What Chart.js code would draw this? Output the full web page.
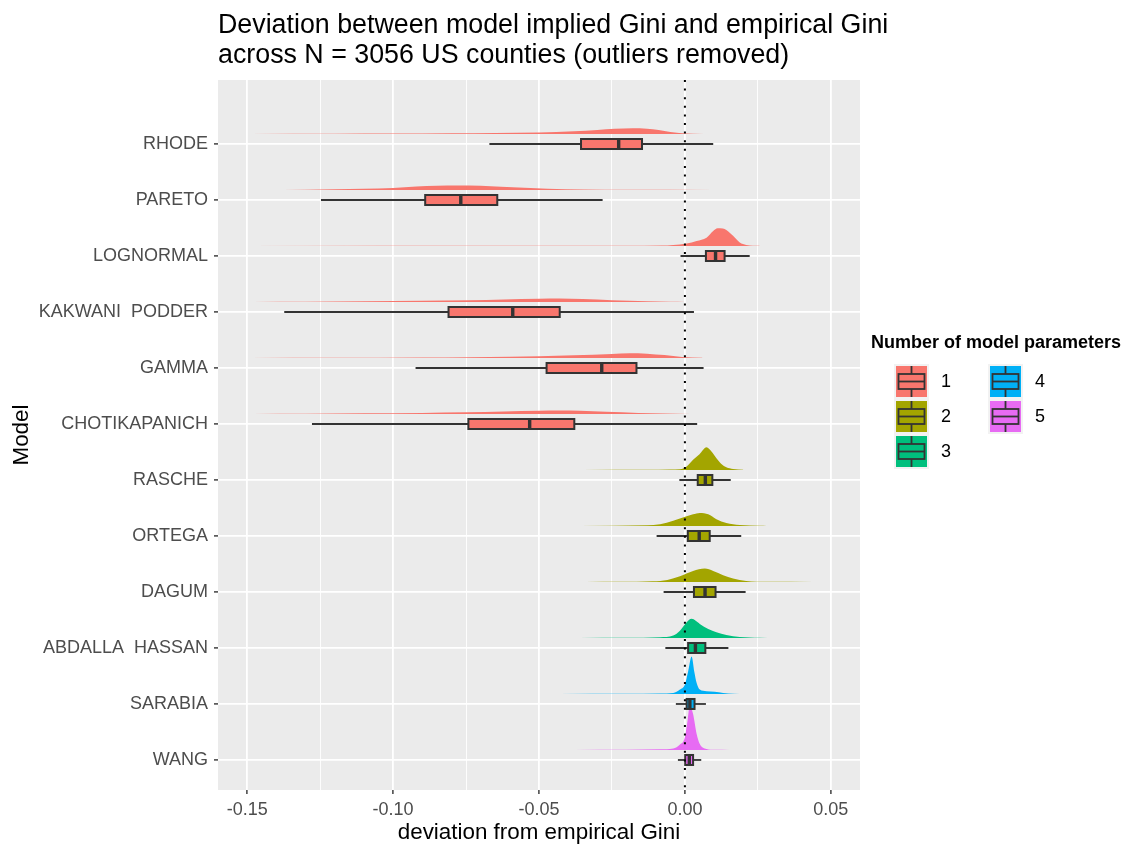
<!DOCTYPE html>
<html lang="en">
<head>
<meta charset="UTF-8">
<title>Deviation between model implied Gini and empirical Gini</title>
<script src="https://cdn.jsdelivr.net/npm/chart.js"></script>
<style>
    body {
        margin: 0;
        background: #ffffff;
    }
</style>
</head>
<body>
<canvas id="giniChart" width="1127" height="848"></canvas>
<script>
// models, from top row to bottom row
const modelos = ["RHODE", "PARETO", "LOGNORMAL", "KAKWANI  PODDER", "GAMMA", "CHOTIKAPANICH",
                 "RASCHE", "ORTEGA", "DAGUM", "ABDALLA  HASSAN", "SARABIA", "WANG"];
const numParametros = [1, 1, 1, 1, 1, 1, 2, 2, 2, 3, 4, 5];

// boxplot statistics per model
const bigoteInf = [-0.0670, -0.1247, -0.0015, -0.1373, -0.0923, -0.1278, -0.0019, -0.0097, -0.0073, -0.0067, -0.0031, -0.0024];
const cuartil1  = [-0.0356, -0.0890,  0.0072, -0.0810, -0.0474, -0.0742,  0.0044,  0.0010,  0.0031,  0.0011,  0.0006,  0.0001];
const mediana   = [-0.0227, -0.0768,  0.0105, -0.0590, -0.0285, -0.0532,  0.0070,  0.0049,  0.0069,  0.0036,  0.0017,  0.0015];
const cuartil3  = [-0.0147, -0.0643,  0.0136, -0.0429, -0.0166, -0.0379,  0.0094,  0.0085,  0.0105,  0.0070,  0.0033,  0.0028];
const bigoteSup = [ 0.0097, -0.0282,  0.0222,  0.0031,  0.0064,  0.0042,  0.0157,  0.0193,  0.0208,  0.0149,  0.0072,  0.0056];

// density curves [deviation, height in row units]
const densRhode = [[-0.149, 0.0005], [-0.12, 0.003], [-0.10, 0.006], [-0.08, 0.011], [-0.065, 0.017], [-0.05, 0.025],
                   [-0.038, 0.048], [-0.03, 0.072], [-0.024, 0.092], [-0.018, 0.100], [-0.013, 0.094], [-0.009, 0.068],
                   [-0.005, 0.035], [-0.002, 0.016], [0.003, 0.004], [0.010, 0.0005]];
const densPareto = [[-0.145, 0.0005], [-0.13, 0.005], [-0.12, 0.011], [-0.11, 0.020], [-0.10, 0.035], [-0.092, 0.060],
                    [-0.085, 0.075], [-0.078, 0.078], [-0.07, 0.074], [-0.063, 0.058], [-0.055, 0.038], [-0.047, 0.022],
                    [-0.035, 0.009], [-0.02, 0.003], [0.010, 0.0003]];
const densLognormal = [[-0.15, 0.0003], [-0.06, 0.001], [-0.02, 0.003], [-0.008, 0.007], [-0.004, 0.018], [0.0006, 0.045],
                       [0.004, 0.09], [0.0074, 0.148], [0.0097, 0.268], [0.0112, 0.316], [0.013, 0.310], [0.0142, 0.286],
                       [0.0165, 0.18], [0.0188, 0.06], [0.021, 0.018], [0.0256, 0.001]];
const densKakwani = [[-0.148, 0.0005], [-0.13, 0.004], [-0.11, 0.011], [-0.09, 0.020], [-0.074, 0.030], [-0.062, 0.045],
                     [-0.05, 0.058], [-0.043, 0.060], [-0.035, 0.052], [-0.025, 0.032], [-0.013, 0.013], [-0.005, 0.004],
                     [0.0, 0.0005]];
const densGamma = [[-0.149, 0.0004], [-0.12, 0.003], [-0.09, 0.007], [-0.074, 0.012], [-0.06, 0.020], [-0.05, 0.030],
                   [-0.038, 0.048], [-0.025, 0.072], [-0.019, 0.083], [-0.013, 0.076], [-0.007, 0.050], [-0.001, 0.018],
                   [0.006, 0.001]];
const densChotikapanich = [[-0.148, 0.0005], [-0.13, 0.004], [-0.11, 0.010], [-0.09, 0.018], [-0.075, 0.028], [-0.062, 0.042],
                           [-0.05, 0.056], [-0.043, 0.060], [-0.036, 0.055], [-0.027, 0.038], [-0.016, 0.018], [-0.007, 0.006],
                           [0.002, 0.0005]];
const densRasche = [[-0.035, 0.0004], [-0.013, 0.003], [-0.005, 0.008], [-0.0017, 0.012], [0.0006, 0.06], [0.0028, 0.18],
                    [0.005, 0.28], [0.0074, 0.405], [0.0091, 0.33], [0.0108, 0.21], [0.0125, 0.107], [0.0142, 0.048],
                    [0.0165, 0.018], [0.020, 0.001]];
const densOrtega = [[-0.036, 0.0004], [-0.013, 0.010], [-0.0085, 0.030], [-0.004, 0.09], [0.0006, 0.173], [0.0028, 0.208],
                    [0.0051, 0.232], [0.008, 0.208], [0.0108, 0.12], [0.0142, 0.054], [0.0188, 0.018], [0.0256, 0.003],
                    [0.028, 0.0004]];
const densDagum = [[-0.034, 0.0004], [-0.022, 0.003], [-0.011, 0.012], [-0.006, 0.036], [-0.0017, 0.10], [0.0028, 0.196],
                   [0.0068, 0.238], [0.0097, 0.196], [0.0131, 0.12], [0.0165, 0.06], [0.021, 0.018], [0.028, 0.003],
                   [0.044, 0.0003]];
const densAbdalla = [[-0.036, 0.0004], [-0.02, 0.003], [-0.0085, 0.012], [-0.004, 0.042], [-0.0017, 0.13], [0.0006, 0.28],
                     [0.0023, 0.34], [0.0051, 0.25], [0.008, 0.16], [0.0108, 0.10], [0.0142, 0.054], [0.0188, 0.018],
                     [0.0256, 0.004], [0.031, 0.0004]];
const densSarabia = [[-0.043, 0.0003], [-0.02, 0.003], [-0.0085, 0.008], [-0.004, 0.018], [-0.0017, 0.077], [0.0, 0.167],
                     [0.0011, 0.40], [0.0023, 0.67], [0.0032, 0.40], [0.004, 0.20], [0.0051, 0.077], [0.0074, 0.048],
                     [0.0102, 0.040], [0.0131, 0.018], [0.0165, 0.005], [0.021, 0.0003]];
const densWang = [[-0.038, 0.0003], [-0.02, 0.003], [-0.0085, 0.010], [-0.004, 0.024], [-0.0017, 0.095], [0.0, 0.226],
                  [0.0009, 0.52], [0.0017, 0.80], [0.0028, 0.64], [0.004, 0.29], [0.0051, 0.107], [0.0074, 0.018],
                  [0.010, 0.003], [0.0153, 0.0003]];
const densidades = [densRhode, densPareto, densLognormal, densKakwani, densGamma, densChotikapanich,
                    densRasche, densOrtega, densDagum, densAbdalla, densSarabia, densWang];

// x axis ticks and legend
const marcasX = [-0.15, -0.10, -0.05, 0.00, 0.05];
const etiquetasParam = ["1", "2", "3", "4", "5"];
const coloresParam = ["#F8766D", "#A3A500", "#00BF7D", "#00B0F6", "#E76BF3"];

const lineasTitulo = ["Deviation between model implied Gini and empirical Gini",
                      "across N = 3056 US counties (outliers removed)"];
const tituloLeyenda = "Number of model parameters";

const FUENTE = '"Liberation Sans", Arial, Helvetica, sans-serif';
Chart.defaults.font.family = FUENTE;

const n = modelos.length;
const filaY = i => n - i;          // top row gets the highest value
const DENS_BASE = 0.18;            // densities sit a bit above their row line

// minor gridlines halfway between the labelled ticks
const todasMarcasX = [];
marcasX.forEach((v, k) => {
    todasMarcasX.push(v);
    if (k < marcasX.length - 1) todasMarcasX.push((v + marcasX[k + 1]) / 2);
});
const esMayor = v => marcasX.some(m => Math.abs(m - v) < 1e-9);

const datasets = densidades.map((d, i) => {
    const base = filaY(i) + DENS_BASE;
    return {
        type: 'line',
        data: d.map(p => ({ x: p[0], y: base + p[1] })),
        borderColor: 'rgba(0,0,0,0)',
        borderWidth: 0,
        backgroundColor: coloresParam[numParametros[i] - 1],
        pointRadius: 0,
        cubicInterpolationMode: 'monotone',
        fill: { value: base }
    };
});

// grey panel behind the grid
const fondoPanel = {
    id: 'fondoPanel',
    beforeDraw(chart) {
        const { ctx, chartArea: a } = chart;
        ctx.save();
        ctx.fillStyle = '#EBEBEB';
        ctx.fillRect(a.left, a.top, a.right - a.left, a.bottom - a.top);
        ctx.restore();
    }
};

// boxplots on top of the densities, then the dotted zero line
const cajas = {
    id: 'cajas',
    afterDatasetsDraw(chart) {
        const { ctx, chartArea: a } = chart;
        const x = chart.scales.x, y = chart.scales.y;
        const px = v => x.getPixelForValue(v);
        const alto = 5;
        ctx.save();
        modelos.forEach((m, i) => {
            const yc = y.getPixelForValue(filaY(i));
            ctx.strokeStyle = '#333333';
            ctx.lineWidth = 1.8;
            ctx.beginPath();
            ctx.moveTo(px(bigoteInf[i]), yc);
            ctx.lineTo(px(bigoteSup[i]), yc);
            ctx.stroke();

            const x1 = px(cuartil1[i]), x3 = px(cuartil3[i]);
            ctx.fillStyle = coloresParam[numParametros[i] - 1];
            ctx.fillRect(x1, yc - alto, x3 - x1, alto * 2);
            ctx.lineWidth = 2;
            ctx.strokeRect(x1, yc - alto, x3 - x1, alto * 2);

            ctx.lineWidth = 3.4;
            ctx.beginPath();
            ctx.moveTo(px(mediana[i]), yc - alto);
            ctx.lineTo(px(mediana[i]), yc + alto);
            ctx.stroke();
        });

        const x0 = px(0);
        ctx.setLineDash([2, 6.6]);
        ctx.strokeStyle = '#000000';
        ctx.lineWidth = 2;
        ctx.beginPath();
        ctx.moveTo(x0, a.top);
        ctx.lineTo(x0, a.bottom);
        ctx.stroke();
        ctx.restore();
    }
};

const titulo = {
    id: 'titulo',
    afterDraw(chart) {
        const ctx = chart.ctx;
        ctx.save();
        ctx.fillStyle = '#000000';
        ctx.font = '26.8px ' + FUENTE;
        ctx.textBaseline = 'alphabetic';
        lineasTitulo.forEach((t, k) => ctx.fillText(t, chart.chartArea.left, 33 + k * 30));
        ctx.restore();
    }
};

// legend: colour key with a small boxplot glyph, two columns
const leyenda = {
    id: 'leyenda',
    afterDraw(chart) {
        const ctx = chart.ctx;
        const x0 = chart.chartArea.right + 11;
        ctx.save();
        ctx.fillStyle = '#000000';
        ctx.font = 'bold 18px ' + FUENTE;
        ctx.textBaseline = 'middle';
        ctx.fillText(tituloLeyenda, x0, 343);

        etiquetasParam.forEach((lab, k) => {
            const col = Math.floor(k / 3), fila = k % 3;
            const cx = x0 + 23 + col * 94, cy = 364 + fila * 35;
            ctx.fillStyle = '#F2F2F2';
            ctx.fillRect(cx, cy, 35, 35);
            ctx.fillStyle = coloresParam[k];
            ctx.fillRect(cx + 2, cy + 2, 31, 31);

            ctx.strokeStyle = '#333333';
            ctx.lineWidth = 1.8;
            ctx.beginPath();
            ctx.moveTo(cx + 17.5, cy + 2);
            ctx.lineTo(cx + 17.5, cy + 33);
            ctx.stroke();
            ctx.fillStyle = coloresParam[k];
            ctx.fillRect(cx + 4.5, cy + 10, 26, 15);
            ctx.strokeRect(cx + 4.5, cy + 10, 26, 15);
            ctx.beginPath();
            ctx.moveTo(cx + 4.5, cy + 17.5);
            ctx.lineTo(cx + 30.5, cy + 17.5);
            ctx.stroke();

            ctx.fillStyle = '#000000';
            ctx.font = '18px ' + FUENTE;
            ctx.fillText(lab, cx + 47, cy + 18);
        });
        ctx.restore();
    }
};

new Chart(document.getElementById('giniChart'), {
    type: 'line',
    data: { datasets: datasets },
    plugins: [fondoPanel, cajas, titulo, leyenda],
    options: {
        responsive: false,
        animation: false,
        events: [],
        layout: { padding: { top: 80, right: 267, bottom: 0, left: 0 } },
        plugins: {
            legend: { display: false },
            tooltip: { enabled: false }
        },
        scales: {
            x: {
                type: 'linear',
                min: -0.16,
                max: 0.06,
                afterBuildTicks: s => { s.ticks = todasMarcasX.map(v => ({ value: v })); },
                afterFit: s => { s.height = 58; },
                ticks: {
                    autoSkip: false,
                    maxRotation: 0,
                    color: '#4D4D4D',
                    font: { size: 18 },
                    padding: 5,
                    callback: v => esMayor(v) ? v.toFixed(2) : ''
                },
                grid: {
                    color: '#FFFFFF',
                    lineWidth: c => (c.tick && esMayor(c.tick.value)) ? 1.8 : 0.9,
                    tickLength: 4,
                    tickWidth: 1.4,
                    tickColor: c => (c.tick && esMayor(c.tick.value)) ? '#333333' : 'rgba(0,0,0,0)'
                },
                border: { display: false },
                title: {
                    display: true,
                    text: 'deviation from empirical Gini',
                    color: '#000000',
                    font: { size: 22.4 },
                    padding: { top: 0, bottom: 2 }
                }
            },
            y: {
                type: 'linear',
                min: 0.464,
                max: 13.143,
                afterBuildTicks: s => { s.ticks = modelos.map((m, i) => ({ value: filaY(i) })).reverse(); },
                afterFit: s => { s.width = 218; },
                ticks: {
                    autoSkip: false,
                    color: '#4D4D4D',
                    font: { size: 18 },
                    padding: 6,
                    callback: v => modelos[n - v]
                },
                grid: {
                    color: '#FFFFFF',
                    lineWidth: 1.8,
                    tickLength: 4,
                    tickWidth: 1.4,
                    tickColor: '#333333'
                },
                border: { display: false },
                title: {
                    display: true,
                    text: 'Model',
                    color: '#000000',
                    font: { size: 22.4 },
                    padding: { top: 8, bottom: 0 }
                }
            }
        }
    }
});
</script>
</body>
</html>
